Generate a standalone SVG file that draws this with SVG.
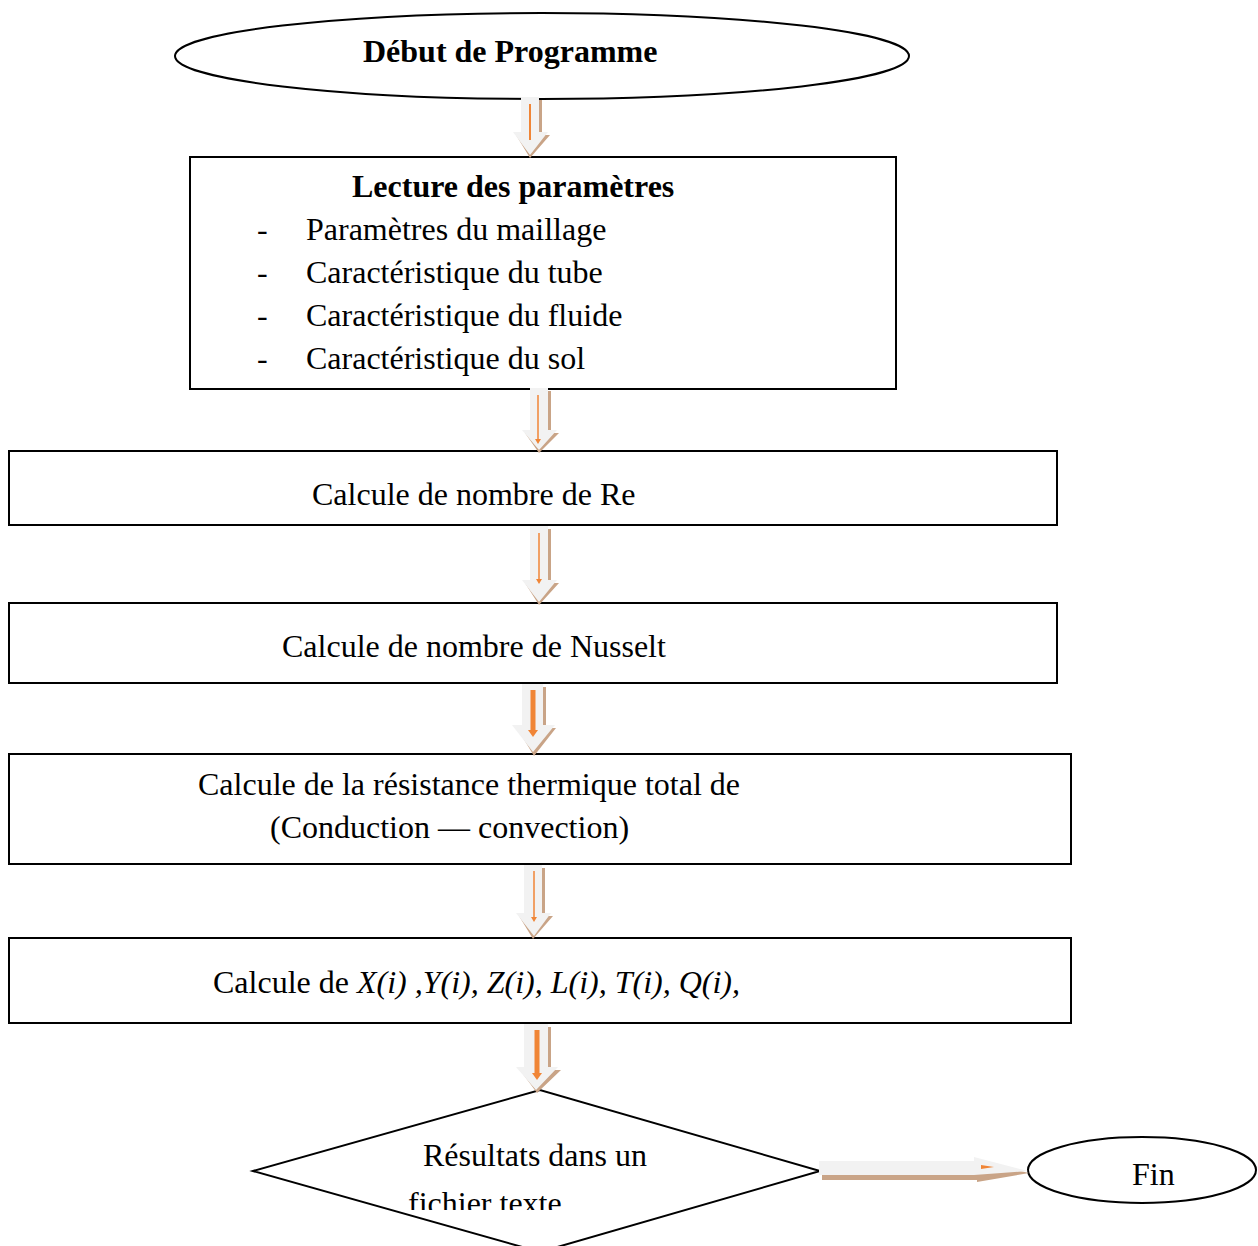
<svg xmlns="http://www.w3.org/2000/svg" width="1258" height="1246" viewBox="0 0 1258 1246">
<style>
.s{fill:#fff;stroke:#000;stroke-width:2}
.t{font-family:"Liberation Serif","Times New Roman",serif;font-size:32px;fill:#000}
.b{font-weight:bold}
.sh{fill:#c9a487}
.ar{fill:#f2f2f2}
.ol{stroke:#f08536;fill:none}
</style>
<defs>
<clipPath id="clipD"><rect x="0" y="1090" width="1258" height="120"/></clipPath>
</defs>
<rect width="1258" height="1246" fill="#fff"/>
<g id="n-start">
<ellipse class="s" cx="542" cy="56" rx="367" ry="43"/>
<text class="t b" x="363" y="62">Début de Programme</text>
</g>
<g id="n-lecture">
<rect class="s" x="190" y="157" width="706" height="232"/>
<text class="t b" x="352" y="197">Lecture des paramètres</text>
<text class="t" x="257" y="240">-</text><text class="t" x="306" y="240">Paramètres du maillage</text>
<text class="t" x="257" y="283">-</text><text class="t" x="306" y="283">Caractéristique du tube</text>
<text class="t" x="257" y="326">-</text><text class="t" x="306" y="326">Caractéristique du fluide</text>
<text class="t" x="257" y="369">-</text><text class="t" x="306" y="369">Caractéristique du sol</text>
</g>
<g id="n-re">
<rect class="s" x="9" y="451" width="1048" height="74"/>
<text class="t" x="312" y="505">Calcule de nombre de Re</text>
</g>
<g id="n-nusselt">
<rect class="s" x="9" y="603" width="1048" height="80"/>
<text class="t" x="282" y="657">Calcule de nombre de Nusselt</text>
</g>
<g id="n-resistance">
<rect class="s" x="9" y="754" width="1062" height="110"/>
<text class="t" x="198" y="795">Calcule de la résistance thermique total de</text>
<text class="t" x="270" y="838">(Conduction — convection)</text>
</g>
<g id="n-calc">
<rect class="s" x="9" y="938" width="1062" height="85"/>
<text class="t" x="213" y="993">Calcule de <tspan font-style="italic">X(i) ,Y(i), Z(i), L(i), T(i), Q(i),</tspan></text>
</g>
<g id="n-result">
<polygon class="s" points="253,1171 540,1090 820,1171 540,1252"/>
<text class="t" x="423" y="1166">Résultats dans un</text>
<text class="t" x="408" y="1214" clip-path="url(#clipD)">fichier texte</text>
</g>
<g id="n-fin">
<ellipse class="s" cx="1142" cy="1170" rx="114" ry="33"/>
<text class="t" x="1132" y="1185">Fin</text>
</g>
<g id="connectors">
<path class="sh" d="M524,100 h18 v35 h8 l-20,23 l-14,-23 h8 z"/>
<path class="ar" d="M521,97 h18 v35 h9 l-18,23 l-17,-23 h8 z"/>
<line class="ol" x1="530" y1="104" x2="530" y2="140" stroke-width="2"/>
<path class="sh" d="M533,391 h18 v42 h8 l-20,20 l-14,-20 h8 z"/>
<path class="ar" d="M530,388 h18 v42 h9 l-18,20 l-17,-20 h8 z"/>
<line class="ol" x1="538" y1="395" x2="538" y2="440" stroke-width="1.5"/>
<path d="M535,439 l3,5 l3,-5 z" fill="#f08536"/>
<path class="sh" d="M533,529 h18 v54 h8 l-20,22 l-14,-22 h8 z"/>
<path class="ar" d="M530,526 h18 v54 h9 l-18,22 l-17,-22 h8 z"/>
<line class="ol" x1="539" y1="533" x2="539" y2="580" stroke-width="1.5"/>
<path d="M536,579 l3,5 l3,-5 z" fill="#f08536"/>
<path class="sh" d="M525,687 h21 v41 h10 l-22,28 l-17,-28 h8 z"/>
<path class="ar" d="M522,684 h21 v41 h12 l-22,27 l-21,-27 h10 z"/>
<line class="ol" x1="533" y1="690" x2="533" y2="732" stroke-width="5"/>
<path d="M528,730 l5,7 l5,-7 z" fill="#f08536"/>
<path class="sh" d="M527,868 h18 v48 h8 l-20,23 l-14,-23 h8 z"/>
<path class="ar" d="M524,865 h18 v48 h9 l-17,23 l-18,-23 h8 z"/>
<line class="ol" x1="534" y1="871" x2="534" y2="918" stroke-width="1.5"/>
<path d="M531,917 l3,5 l3,-5 z" fill="#f08536"/>
<path class="sh" d="M527,1027 h24 v43 h10 l-24,23 l-17,-23 h9 z"/>
<path class="ar" d="M524,1024 h24 v43 h10 l-22,23 l-20,-23 h8 z"/>
<line class="ol" x1="537" y1="1030" x2="537" y2="1075" stroke-width="5"/>
<path d="M532,1073 l5,7 l5,-7 z" fill="#f08536"/>
<path class="sh" d="M822,1165 h155 v-4 l52,12 l-52,9 v-2 h-155 z"/>
<path class="ar" d="M819,1161 h155 v-4 l54,14 l-54,4 h-155 z"/>
<path d="M981,1165 l13,2 l-13,2 z" fill="#f08536"/>
</g>
</svg>
